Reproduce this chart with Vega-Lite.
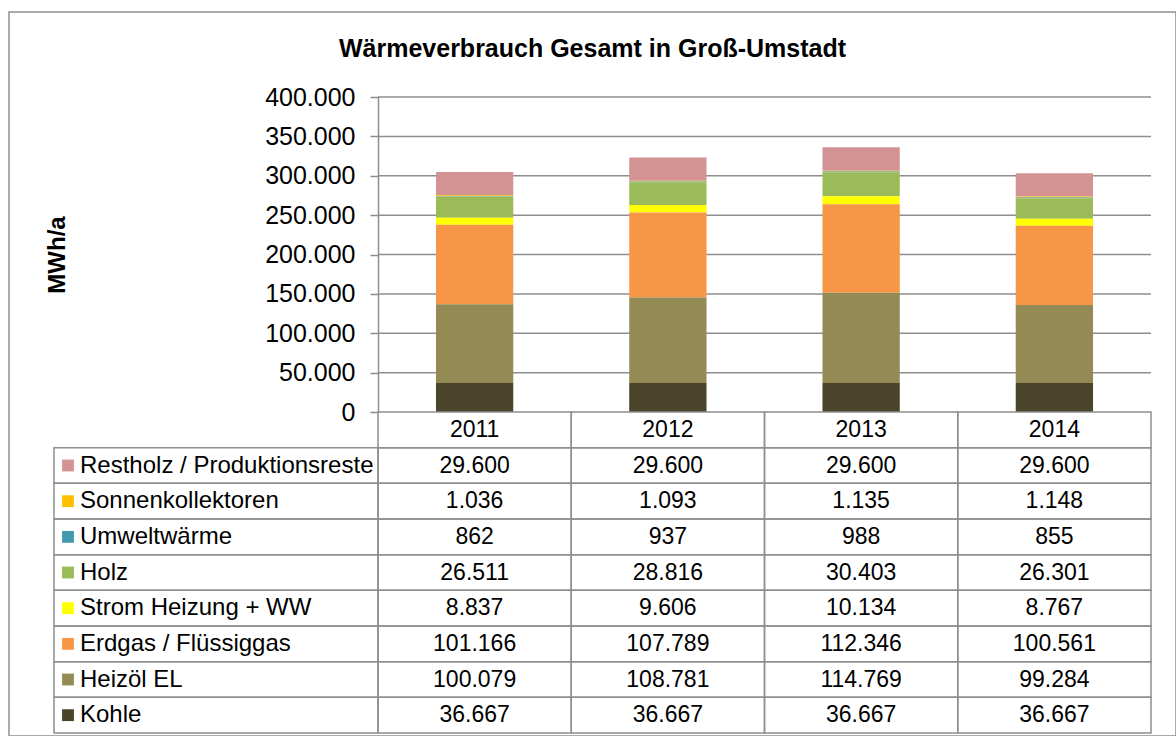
{
  "$schema": "https://vega.github.io/schema/vega-lite/v6.json",
  "width": 1167,
  "height": 724,
  "autosize": {"type": "none"},
  "padding": {"left": 9, "top": 12, "right": 0, "bottom": 0},
  "background": "white",
  "title": {
    "text": "Wärmeverbrauch Gesamt in Groß-Umstadt",
    "font": "Liberation Sans",
    "fontSize": 25,
    "fontWeight": "bold",
    "color": "#000000",
    "anchor": "middle",
    "baseline": "alphabetic",
    "offset": -70
  },
  "config": {
    "view": {"stroke": "#8E8E8E", "strokeWidth": 1.5},
    "locale": {"number": {"decimal": ",", "thousands": ".", "grouping": [3], "currency": ["", " €"]}},
    "text": {"font": "Liberation Sans", "fontSize": 23, "color": "#000000"}
  },
  "datasets": {
    "heat": [
      {"cat": "Restholz / Produktionsreste", "year": "2011", "value": 29600},
      {"cat": "Restholz / Produktionsreste", "year": "2012", "value": 29600},
      {"cat": "Restholz / Produktionsreste", "year": "2013", "value": 29600},
      {"cat": "Restholz / Produktionsreste", "year": "2014", "value": 29600},
      {"cat": "Sonnenkollektoren", "year": "2011", "value": 1036},
      {"cat": "Sonnenkollektoren", "year": "2012", "value": 1093},
      {"cat": "Sonnenkollektoren", "year": "2013", "value": 1135},
      {"cat": "Sonnenkollektoren", "year": "2014", "value": 1148},
      {"cat": "Umweltwärme", "year": "2011", "value": 862},
      {"cat": "Umweltwärme", "year": "2012", "value": 937},
      {"cat": "Umweltwärme", "year": "2013", "value": 988},
      {"cat": "Umweltwärme", "year": "2014", "value": 855},
      {"cat": "Holz", "year": "2011", "value": 26511},
      {"cat": "Holz", "year": "2012", "value": 28816},
      {"cat": "Holz", "year": "2013", "value": 30403},
      {"cat": "Holz", "year": "2014", "value": 26301},
      {"cat": "Strom Heizung + WW", "year": "2011", "value": 8837},
      {"cat": "Strom Heizung + WW", "year": "2012", "value": 9606},
      {"cat": "Strom Heizung + WW", "year": "2013", "value": 10134},
      {"cat": "Strom Heizung + WW", "year": "2014", "value": 8767},
      {"cat": "Erdgas / Flüssiggas", "year": "2011", "value": 101166},
      {"cat": "Erdgas / Flüssiggas", "year": "2012", "value": 107789},
      {"cat": "Erdgas / Flüssiggas", "year": "2013", "value": 112346},
      {"cat": "Erdgas / Flüssiggas", "year": "2014", "value": 100561},
      {"cat": "Heizöl EL", "year": "2011", "value": 100079},
      {"cat": "Heizöl EL", "year": "2012", "value": 108781},
      {"cat": "Heizöl EL", "year": "2013", "value": 114769},
      {"cat": "Heizöl EL", "year": "2014", "value": 99284},
      {"cat": "Kohle", "year": "2011", "value": 36667},
      {"cat": "Kohle", "year": "2012", "value": 36667},
      {"cat": "Kohle", "year": "2013", "value": 36667},
      {"cat": "Kohle", "year": "2014", "value": 36667}
    ],
    "cats": [
      {"cat": "Restholz / Produktionsreste"},
      {"cat": "Sonnenkollektoren"},
      {"cat": "Umweltwärme"},
      {"cat": "Holz"},
      {"cat": "Strom Heizung + WW"},
      {"cat": "Erdgas / Flüssiggas"},
      {"cat": "Heizöl EL"},
      {"cat": "Kohle"}
    ],
    "years": [{"year": "2011"}, {"year": "2012"}, {"year": "2013"}, {"year": "2014"}],
    "grid": [{"v": 50000}, {"v": 100000}, {"v": 150000}, {"v": 200000}, {"v": 250000}, {"v": 300000}, {"v": 350000}, {"v": 400000}]
  },
  "resolve": {"scale": {"x": "independent", "y": "independent"}, "axis": {"x": "independent", "y": "independent"}},
  "layer": [
    {
      "data": {"name": "grid"},
      "mark": {"type": "rule", "stroke": "#8E8E8E", "strokeWidth": 1.5},
      "encoding": {
        "y": {"field": "v", "type": "quantitative", "scale": {"domain": [0, 400000], "range": [400, 85], "nice": false}, "axis": null},
        "x": {"datum": 0, "type": "quantitative", "scale": {"domain": [0, 1], "range": [369, 1142]}, "axis": null},
        "x2": {"datum": 1}
      }
    },
    {
      "data": {"name": "heat"},
      "transform": [
        {"calculate": "indexof(['Kohle', 'Heizöl EL', 'Erdgas / Flüssiggas', 'Strom Heizung + WW', 'Holz', 'Umweltwärme', 'Sonnenkollektoren', 'Restholz / Produktionsreste'], datum.cat)", "as": "stackOrder"}
      ],
      "mark": {"type": "bar", "width": {"band": 0.4}},
      "encoding": {
        "x": {"field": "year", "type": "nominal", "scale": {"domain": ["2011", "2012", "2013", "2014"], "range": [369, 1142], "paddingInner": 0, "paddingOuter": 0}, "axis": null},
        "y": {
          "aggregate": "sum", "field": "value", "type": "quantitative", "stack": "zero",
          "scale": {"domain": [0, 400000], "range": [400, 85], "nice": false},
          "axis": {
            "orient": "left", "offset": -369, "title": "MWh/a",
            "values": [0, 50000, 100000, 150000, 200000, 250000, 300000, 350000, 400000],
            "format": ",d", "grid": false,
            "domainColor": "#8E8E8E", "domainWidth": 1.5,
            "tickColor": "#8E8E8E", "tickWidth": 1.5, "tickSize": 8,
            "labelFont": "Liberation Sans", "labelFontSize": 25, "labelColor": "#000000", "labelPadding": 15,
            "titleFont": "Liberation Sans", "titleFontSize": 24, "titleFontWeight": "bold", "titleColor": "#000000", "titlePadding": 195
          }
        },
        "order": {"field": "stackOrder", "type": "quantitative", "sort": "ascending"},
        "color": {
          "field": "cat", "type": "nominal",
          "scale": {
            "domain": ["Kohle", "Heizöl EL", "Erdgas / Flüssiggas", "Strom Heizung + WW", "Holz", "Umweltwärme", "Sonnenkollektoren", "Restholz / Produktionsreste"],
            "range": ["#4A452A", "#948A54", "#F79646", "#FFFF00", "#9BBB59", "#4198AF", "#FFC000", "#D49393"]
          },
          "legend": null
        }
      }
    },
    {
      "layer": [
        {
          "data": {"name": "heat"},
          "mark": {"type": "rect", "fill": "white", "fillOpacity": 0, "stroke": "#8E8E8E", "strokeWidth": 1.5},
          "encoding": {
            "x": {"field": "year", "type": "nominal", "scale": {"domain": ["2011", "2012", "2013", "2014"], "range": [369, 1142], "paddingInner": 0, "paddingOuter": 0}, "axis": null},
            "y": {"field": "cat", "type": "nominal", "scale": {"domain": ["Jahr", "Restholz / Produktionsreste", "Sonnenkollektoren", "Umweltwärme", "Holz", "Strom Heizung + WW", "Erdgas / Flüssiggas", "Heizöl EL", "Kohle"], "range": [400, 721], "paddingInner": 0, "paddingOuter": 0}, "axis": null}
          }
        },
        {
          "data": {"name": "heat"},
          "mark": {"type": "text", "align": "center", "baseline": "middle"},
          "encoding": {
            "x": {"field": "year", "type": "nominal"},
            "y": {"field": "cat", "type": "nominal"},
            "text": {"field": "value", "type": "quantitative", "format": ",d"}
          }
        },
        {
          "data": {"name": "years"},
          "mark": {"type": "rect", "fill": "white", "fillOpacity": 0, "stroke": "#8E8E8E", "strokeWidth": 1.5},
          "encoding": {
            "x": {"field": "year", "type": "nominal"},
            "y": {"datum": "Jahr", "type": "nominal"}
          }
        },
        {
          "data": {"name": "years"},
          "mark": {"type": "text", "align": "center", "baseline": "middle"},
          "encoding": {
            "x": {"field": "year", "type": "nominal"},
            "y": {"datum": "Jahr", "type": "nominal"},
            "text": {"field": "year", "type": "nominal"}
          }
        }
      ]
    },
    {
      "data": {"name": "cats"},
      "layer": [
        {
          "mark": {"type": "rect", "fill": "white", "fillOpacity": 0, "stroke": "#8E8E8E", "strokeWidth": 1.5},
          "encoding": {
            "x": {"datum": 0, "type": "quantitative", "scale": {"domain": [0, 1], "range": [45, 369]}, "axis": null},
            "x2": {"datum": 1},
            "y": {"field": "cat", "type": "nominal", "scale": {"domain": ["Jahr", "Restholz / Produktionsreste", "Sonnenkollektoren", "Umweltwärme", "Holz", "Strom Heizung + WW", "Erdgas / Flüssiggas", "Heizöl EL", "Kohle"], "range": [400, 721], "paddingInner": 0, "paddingOuter": 0}, "axis": null}
          }
        },
        {
          "mark": {"type": "square", "size": 140, "opacity": 1, "filled": true, "xOffset": 14},
          "encoding": {
            "x": {"datum": 0, "type": "quantitative"},
            "y": {"field": "cat", "type": "nominal"},
            "color": {"field": "cat", "type": "nominal", "legend": null}
          }
        },
        {
          "mark": {"type": "text", "align": "left", "baseline": "middle", "dx": 26, "fontSize": 24},
          "encoding": {
            "x": {"datum": 0, "type": "quantitative"},
            "y": {"field": "cat", "type": "nominal"},
            "text": {"field": "cat", "type": "nominal"}
          }
        }
      ]
    }
  ]
}
